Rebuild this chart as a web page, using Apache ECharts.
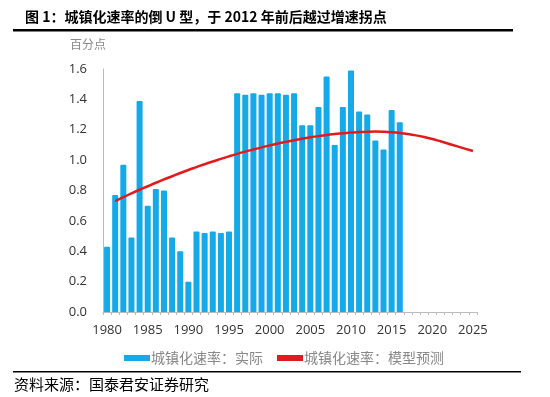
<!DOCTYPE html>
<html><head><meta charset="utf-8">
<script src="https://cdn.jsdelivr.net/npm/echarts@6/dist/echarts.min.js"></script>
<style>html,body{margin:0;padding:0;background:#fff}#c{width:550px;height:397px}</style>
</head><body><div id="c"></div>
<script>
const years = [];
for (let y = 1980; y <= 2025; y++) years.push(String(y));
const actual = [0.43,0.77,0.97,0.49,1.39,0.70,0.81,0.80,0.49,0.40,
  0.20,0.53,0.52,0.53,0.52,0.53,1.44,1.43,1.44,1.43,
  1.44,1.44,1.43,1.44,1.23,1.23,1.35,1.55,1.10,1.35,
  1.59,1.32,1.30,1.13,1.07,1.33,1.25];
const model = [null,0.730,0.756,0.781,0.805,0.828,0.851,0.873,0.894,0.915,
  0.935,0.954,0.973,0.991,1.008,1.025,1.041,1.056,1.070,1.084,
  1.097,1.109,1.120,1.131,1.141,1.150,1.158,1.165,1.172,1.177,
  1.182,1.185,1.187,1.188,1.187,1.184,1.179,1.172,1.163,1.152,
  1.139,1.124,1.108,1.092,1.076,1.060];
const yTicks = ['0.0','0.2','0.4','0.6','0.8','1.0','1.2','1.4','1.6'];
const titleText = '图 1：城镇化速率的倒 U 型，于 2012 年前后越过增速拐点';
const seriesNames = ['城镇化速率：实际','城镇化速率：模型预测'];
const unitText = '百分点';
const sourceText = '资料来源：国泰君安证券研究';

const chart = echarts.init(document.getElementById('c'), null, {renderer:'canvas'});
chart.setOption({
  animation:false,
  grid:{left:103, top:69, width:374, height:243, containLabel:false},
  title:{text:titleText, left:20, top:5,
    textStyle:{fontSize:14, fontWeight:'bold', color:'#000', fontFamily:'"Noto Sans CJK SC", serif'}},
  legend:{top:346, left:119, itemGap:14, itemWidth:26, itemHeight:6,
    textStyle:{fontSize:14, color:'#888', fontFamily:'"Noto Sans CJK SC"', padding:[0,0,0,-4]},
    data:[{name:seriesNames[0], icon:'rect'},{name:seriesNames[1], icon:'rect', itemStyle:{color:'#e31a1c'}}]},
  xAxis:{type:'category', data:years, boundaryGap:true,
    axisLine:{lineStyle:{color:'#bbb'}},
    axisTick:{show:true, interval:0, length:3, lineStyle:{color:'#bbb'}},
    axisLabel:{interval:4, color:'#333', fontSize:13, margin:12, fontFamily:'"Open Sans", sans-serif',
      formatter:v=>v}},
  yAxis:{type:'value', min:0, max:1.6, interval:0.2,
    axisLine:{show:true, lineStyle:{color:'#bbb'}},
    axisTick:{show:false},
    splitLine:{show:false},
    axisLabel:{color:'#333', fontSize:13, margin:16, fontFamily:'"Open Sans", sans-serif',
      formatter:(v)=>yTicks[Math.round(v/0.2)]}},
  series:[
    {name:seriesNames[0], type:'bar', data:actual, barWidth:'74%',
      itemStyle:{color:'#14a9e8', borderRadius:[1,1,0,0]}},
    {name:seriesNames[1], type:'line', data:model, symbol:'none', smooth:true,
      lineStyle:{color:'#e31a1c', width:2.5}, itemStyle:{color:'#e31a1c'}, z:5}
  ],
  graphic:[
    {type:'rect', shape:{x:13, y:29, width:500, height:2.5}, style:{fill:'#000'}},
    {type:'text', left:70, top:38, style:{text:unitText, fontSize:12, fill:'#888', fontFamily:'"Noto Sans CJK SC"'}},
    {type:'rect', shape:{x:13, y:371, width:508, height:1.5}, style:{fill:'#000'}},
    {type:'text', left:14, top:377, style:{text:sourceText, fontSize:15, fill:'#000', fontFamily:'"Noto Sans CJK SC"'}}
  ]
});
</script></body></html>
